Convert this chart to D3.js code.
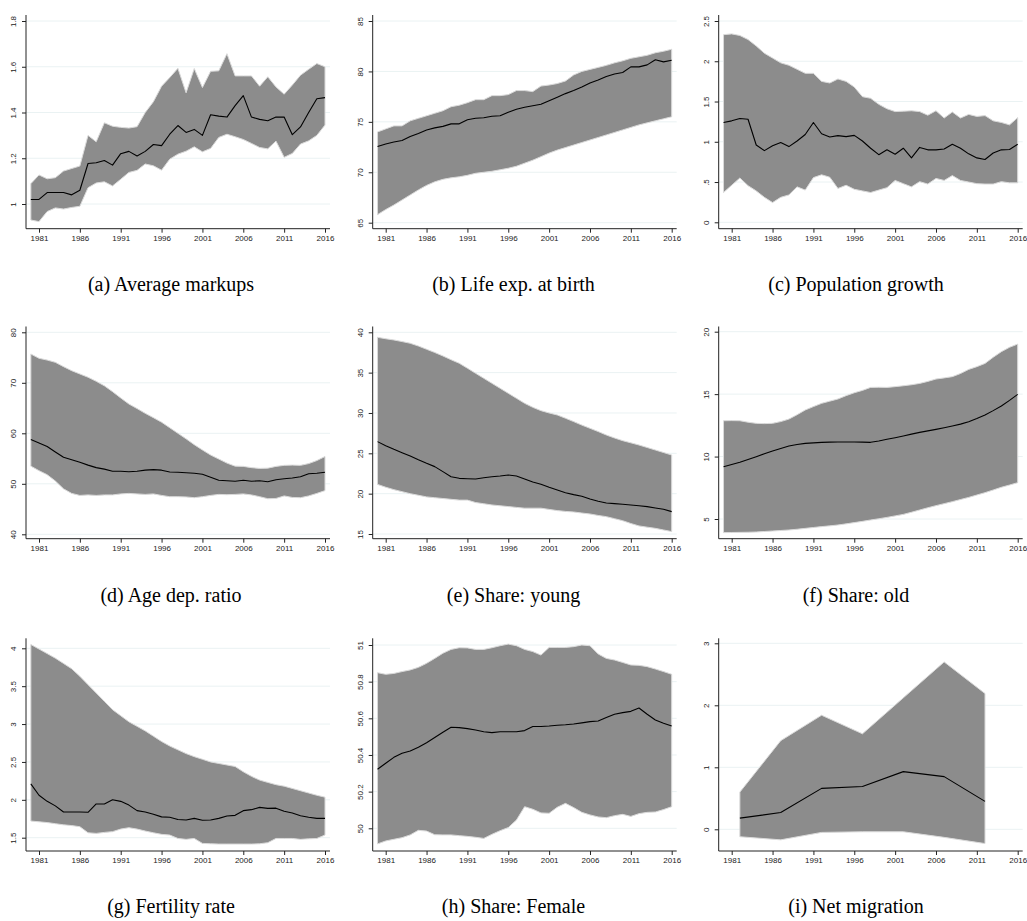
<!DOCTYPE html>
<html>
<head>
<meta charset="utf-8">
<script src="https://cdn.jsdelivr.net/npm/d3@7"></script>
<style>
  html, body { margin: 0; padding: 0; background: #fff; }
  svg { display: block; }
</style>
</head>
<body>
<svg id="fig" width="1027" height="921"></svg>
<script>
// ---- Data -------------------------------------------------------------
const years = [1980,1981,1982,1983,1984,1985,1986,1987,1988,1989,1990,1991,1992,1993,1994,1995,1996,1997,1998,1999,2000,2001,2002,2003,2004,2005,2006,2007,2008,2009,2010,2011,2012,2013,2014,2015,2016];
const xTickYears = [1981,1986,1991,1996,2001,2006,2011,2016];

// (a) Average markups
const markupMean  = [1.02,1.02,1.05,1.05,1.05,1.04,1.06,1.177,1.18,1.19,1.17,1.22,1.23,1.21,1.23,1.26,1.255,1.305,1.343,1.313,1.326,1.30,1.39,1.384,1.38,1.43,1.474,1.38,1.37,1.364,1.38,1.38,1.303,1.337,1.40,1.46,1.465];
const markupHigh  = [1.089,1.127,1.11,1.115,1.144,1.155,1.166,1.30,1.272,1.355,1.34,1.335,1.332,1.338,1.40,1.447,1.515,1.553,1.593,1.486,1.592,1.509,1.58,1.582,1.657,1.56,1.56,1.56,1.515,1.556,1.512,1.48,1.52,1.563,1.589,1.614,1.60];
const markupLow   = [0.93,0.923,0.967,0.983,0.978,0.985,0.99,1.071,1.092,1.097,1.079,1.108,1.138,1.147,1.175,1.167,1.148,1.196,1.218,1.231,1.25,1.228,1.243,1.291,1.305,1.294,1.282,1.265,1.247,1.241,1.275,1.204,1.221,1.262,1.276,1.30,1.345];
const markupTicks = [1, 1.2, 1.4, 1.6, 1.8];
const markupTickLabels = ["1", "1.2", "1.4", "1.6", "1.8"];

// (b) Life expectancy at birth
const lifeMean  = [72.55,72.8,73.0,73.15,73.55,73.85,74.2,74.4,74.55,74.8,74.8,75.2,75.35,75.4,75.55,75.6,75.95,76.25,76.45,76.6,76.75,77.1,77.45,77.8,78.1,78.45,78.85,79.15,79.5,79.75,79.9,80.45,80.45,80.65,81.15,80.95,81.1];
const lifeHigh  = [74.0,74.3,74.6,74.6,75.1,75.35,75.6,75.85,76.1,76.5,76.65,76.9,77.2,77.2,77.6,77.6,77.7,78.1,78.1,78.0,78.55,78.65,78.8,79.05,79.65,80.0,80.2,80.4,80.6,80.85,81.05,81.3,81.45,81.6,81.85,82.0,82.2];
const lifeLow   = [65.8,66.3,66.75,67.25,67.75,68.25,68.7,69.05,69.3,69.45,69.55,69.7,69.9,70.0,70.1,70.25,70.4,70.6,70.9,71.2,71.55,71.9,72.2,72.45,72.7,72.95,73.2,73.45,73.7,73.95,74.2,74.45,74.7,74.9,75.1,75.3,75.5];
const lifeTicks = [65, 70, 75, 80, 85];
const lifeTickLabels = ["65", "70", "75", "80", "85"];

// (c) Population growth
const popMean  = [1.24,1.26,1.29,1.28,0.96,0.89,0.95,0.99,0.94,1.01,1.09,1.24,1.10,1.06,1.076,1.064,1.08,1.01,0.92,0.84,0.90,0.845,0.92,0.80,0.93,0.90,0.90,0.91,0.97,0.92,0.85,0.80,0.78,0.86,0.90,0.905,0.97];
const popHigh  = [2.33,2.34,2.32,2.27,2.19,2.10,2.04,1.98,1.95,1.90,1.85,1.85,1.75,1.73,1.78,1.75,1.68,1.56,1.54,1.465,1.41,1.375,1.38,1.385,1.375,1.33,1.385,1.295,1.37,1.295,1.34,1.315,1.325,1.26,1.24,1.21,1.30];
const popLow   = [0.37,0.46,0.55,0.455,0.39,0.31,0.245,0.31,0.34,0.44,0.40,0.555,0.59,0.56,0.42,0.46,0.41,0.39,0.37,0.40,0.43,0.52,0.48,0.44,0.505,0.475,0.545,0.52,0.58,0.52,0.50,0.48,0.475,0.475,0.505,0.49,0.49];
const popTicks = [0, 0.5, 1, 1.5, 2, 2.5];
const popTickLabels = ["0", ".5", "1", "1.5", "2", "2.5"];

// (d) Age dependency ratio
const depMean  = [58.75,58.1,57.4,56.3,55.25,54.75,54.25,53.7,53.2,52.9,52.5,52.5,52.4,52.5,52.7,52.8,52.7,52.35,52.3,52.2,52.1,51.9,51.3,50.7,50.6,50.5,50.7,50.5,50.6,50.4,50.8,51.0,51.15,51.4,52.0,52.1,52.3];
const depHigh  = [75.7,74.85,74.5,74.05,73.2,72.4,71.75,71.1,70.3,69.4,68.25,67.0,65.8,64.9,63.95,63.1,62.2,61.1,60.0,58.9,57.75,56.7,55.7,54.9,54.1,53.5,53.45,53.2,53.05,53.1,53.45,53.65,53.7,53.65,54.0,54.6,55.4];
const depLow   = [53.5,52.6,51.8,50.55,49.0,48.1,47.7,47.8,47.7,47.8,47.8,48.0,48.1,48.0,47.9,48.0,47.7,47.45,47.45,47.4,47.25,47.45,47.7,47.9,47.85,47.9,48.0,47.8,47.45,47.05,47.1,47.6,47.3,47.25,47.6,48.1,48.65];
const depTicks = [40, 50, 60, 70, 80];
const depTickLabels = ["40", "50", "60", "70", "80"];

// (e) Share of young population
const youngMean = [26.45,25.95,25.5,25.08,24.67,24.2,23.76,23.35,22.73,22.1,21.9,21.85,21.82,21.98,22.1,22.19,22.31,22.19,21.82,21.45,21.16,20.79,20.45,20.12,19.88,19.67,19.34,19.05,18.84,18.76,18.68,18.6,18.51,18.39,18.22,18.06,17.77];
const youngHigh = [39.38,39.2,39.05,38.85,38.64,38.3,37.9,37.5,37.07,36.6,36.16,35.55,34.92,34.3,33.68,33.06,32.44,31.82,31.2,30.7,30.29,30.0,29.75,29.35,28.93,28.5,28.1,27.7,27.27,26.9,26.57,26.3,26.03,25.72,25.41,25.1,24.79];
const youngLow  = [21.15,20.8,20.5,20.25,20.0,19.8,19.6,19.5,19.4,19.3,19.2,19.2,18.9,18.75,18.6,18.5,18.4,18.3,18.2,18.2,18.2,18.05,17.9,17.8,17.73,17.6,17.48,17.3,17.15,16.9,16.65,16.3,16.0,15.85,15.7,15.5,15.3];
const youngTicks = [15, 20, 25, 30, 35, 40];
const youngTickLabels = ["15", "20", "25", "30", "35", "40"];

// (f) Share of old population
const oldMean = [9.19,9.37,9.54,9.77,9.99,10.22,10.44,10.65,10.84,10.97,11.06,11.1,11.14,11.16,11.17,11.17,11.17,11.16,11.14,11.25,11.38,11.51,11.65,11.8,11.94,12.06,12.18,12.31,12.45,12.6,12.79,13.05,13.33,13.68,14.05,14.5,14.98];
const oldHigh = [12.87,12.88,12.87,12.75,12.66,12.64,12.66,12.8,13.0,13.35,13.73,14.0,14.26,14.44,14.61,14.88,15.11,15.3,15.54,15.55,15.54,15.6,15.67,15.75,15.86,16.02,16.21,16.3,16.4,16.65,16.98,17.2,17.46,17.95,18.4,18.75,19.01];
const oldLow  = [3.91,3.92,3.93,3.94,3.96,4.0,4.04,4.08,4.12,4.18,4.25,4.32,4.39,4.45,4.52,4.61,4.71,4.81,4.92,5.02,5.13,5.25,5.37,5.54,5.72,5.9,6.07,6.23,6.39,6.56,6.73,6.92,7.11,7.32,7.54,7.72,7.91];
const oldTicks = [5, 10, 15, 20];
const oldTickLabels = ["5", "10", "15", "20"];

// (g) Fertility rate
const fertMean = [2.21,2.06,1.98,1.92,1.84,1.84,1.84,1.835,1.945,1.945,2.00,1.98,1.93,1.857,1.84,1.81,1.775,1.77,1.74,1.733,1.755,1.73,1.733,1.755,1.786,1.795,1.857,1.87,1.90,1.887,1.89,1.85,1.826,1.79,1.77,1.755,1.755];
const fertHigh = [4.05,3.99,3.93,3.87,3.80,3.73,3.63,3.52,3.41,3.30,3.19,3.11,3.03,2.97,2.91,2.84,2.77,2.71,2.66,2.61,2.57,2.535,2.50,2.48,2.46,2.44,2.37,2.31,2.26,2.23,2.20,2.18,2.15,2.12,2.09,2.06,2.035];
const fertLow  = [1.72,1.71,1.70,1.685,1.67,1.66,1.645,1.565,1.557,1.57,1.58,1.614,1.632,1.614,1.588,1.565,1.544,1.535,1.49,1.478,1.49,1.425,1.42,1.416,1.416,1.416,1.416,1.416,1.42,1.434,1.49,1.49,1.49,1.478,1.485,1.49,1.535];
const fertTicks = [1.5, 2, 2.5, 3, 3.5, 4];
const fertTickLabels = ["1.5", "2", "2.5", "3", "3.5", "4"];

// (h) Share of female population
const femMean = [50.322,50.355,50.387,50.409,50.422,50.442,50.467,50.495,50.524,50.551,50.549,50.544,50.536,50.527,50.522,50.527,50.527,50.527,50.533,50.555,50.555,50.558,50.562,50.565,50.569,50.575,50.582,50.585,50.604,50.622,50.631,50.638,50.656,50.622,50.591,50.573,50.558];
const femHigh = [50.849,50.84,50.845,50.855,50.864,50.878,50.9,50.927,50.955,50.976,50.985,50.984,50.976,50.976,50.985,50.996,51.005,50.996,50.976,50.964,50.945,50.987,50.987,50.987,50.991,51.0,50.996,50.951,50.927,50.918,50.905,50.891,50.889,50.882,50.869,50.855,50.84];
const femLow  = [49.915,49.931,49.94,49.949,49.964,49.989,49.985,49.965,49.964,49.964,49.96,49.956,49.951,49.945,49.967,49.987,50.004,50.045,50.118,50.104,50.084,50.082,50.115,50.136,50.113,50.087,50.073,50.062,50.058,50.069,50.076,50.065,50.08,50.087,50.089,50.102,50.118];
const femTicks = [50, 50.2, 50.4, 50.6, 50.8, 51];
const femTickLabels = ["50", "50.2", "50.4", "50.6", "50.8", "51"];

// (i) Net migration (five-year observations)
const migYears = [1982, 1987, 1992, 1997, 2002, 2007, 2012];
const migMean  = [0.18, 0.27, 0.66, 0.69, 0.93, 0.85, 0.45];
const migHigh  = [0.60, 1.43, 1.84, 1.54, 2.12, 2.70, 2.19];
const migLow   = [-0.12, -0.17, -0.05, -0.04, -0.04, -0.13, -0.23];
const migTicks = [0, 1, 2, 3];
const migTickLabels = ["0", "1", "2", "3"];

const captions = [
  "(a) Average markups", "(b) Life exp. at birth", "(c) Population growth",
  "(d) Age dep. ratio", "(e) Share: young", "(f) Share: old",
  "(g) Fertility rate", "(h) Share: Female", "(i) Net migration"
];

// ---- Layout -----------------------------------------------------------
const colAxisX   = [26, 372.7, 718.7];   // y-axis line of each column
const colCenter  = [171, 513.5, 856];    // caption centre of each column
const rowTop     = [15, 326.5, 638.3];
const rowBottom  = [228.7, 538.7, 851];
const captionY   = [291, 602, 913];
const plotWidth  = 304;
const firstTickOffset = 13;   // 1981 from the y-axis
const lastTickOffset  = 299;  // 2016 from the y-axis
// pixel positions of the lowest and highest y tick per panel
const yTickPix = [
  [204, 21], [222.7, 21], [222.3, 21],
  [534.3, 332.3], [534, 332.3], [519, 331.7],
  [837.7, 648.3], [828.3, 645], [829.3, 643.3]
];

const panels = [
  { x: years, mean: markupMean, hi: markupHigh, lo: markupLow, ticks: markupTicks, labels: markupTickLabels },
  { x: years, mean: lifeMean,   hi: lifeHigh,   lo: lifeLow,   ticks: lifeTicks,   labels: lifeTickLabels },
  { x: years, mean: popMean,    hi: popHigh,    lo: popLow,    ticks: popTicks,    labels: popTickLabels },
  { x: years, mean: depMean,    hi: depHigh,    lo: depLow,    ticks: depTicks,    labels: depTickLabels },
  { x: years, mean: youngMean,  hi: youngHigh,  lo: youngLow,  ticks: youngTicks,  labels: youngTickLabels },
  { x: years, mean: oldMean,    hi: oldHigh,    lo: oldLow,    ticks: oldTicks,    labels: oldTickLabels },
  { x: years, mean: fertMean,   hi: fertHigh,   lo: fertLow,   ticks: fertTicks,   labels: fertTickLabels },
  { x: years, mean: femMean,    hi: femHigh,    lo: femLow,    ticks: femTicks,    labels: femTickLabels },
  { x: migYears, mean: migMean, hi: migHigh,    lo: migLow,    ticks: migTicks,    labels: migTickLabels }
];

const svg = d3.select("#fig");
const GRID = "#eaf2f3", AREA = "#8c8c8c", AREA_EDGE = "#dadada";
const TICK_FONT = "'Liberation Sans', Arial, Helvetica, sans-serif";

panels.forEach((p, i) => {
  const col = i % 3, row = Math.floor(i / 3);
  const ax = colAxisX[col], top = rowTop[row], bottom = rowBottom[row];

  const x = d3.scaleLinear()
    .domain([xTickYears[0], xTickYears[xTickYears.length - 1]])
    .range([ax + firstTickOffset, ax + lastTickOffset]);
  const y = d3.scaleLinear()
    .domain([p.ticks[0], p.ticks[p.ticks.length - 1]])
    .range(yTickPix[i]);

  const g = svg.append("g");

  // horizontal grid lines
  g.selectAll("line.grid").data(p.ticks).enter().append("line")
    .attr("x1", ax).attr("x2", ax + plotWidth)
    .attr("y1", d => y(d)).attr("y2", d => y(d))
    .attr("stroke", GRID).attr("stroke-width", 1);

  const rows = p.x.map((yr, k) => ({ yr, m: p.mean[k], hi: p.hi[k], lo: p.lo[k] }));

  // range band
  g.append("path").datum(rows)
    .attr("d", d3.area().x(d => x(d.yr)).y0(d => y(d.lo)).y1(d => y(d.hi)))
    .attr("fill", AREA).attr("stroke", AREA_EDGE).attr("stroke-width", 1)
    .attr("stroke-linejoin", "round");

  // mean line
  g.append("path").datum(rows)
    .attr("d", d3.line().x(d => x(d.yr)).y(d => y(d.m)))
    .attr("fill", "none").attr("stroke", "#000").attr("stroke-width", 1.1)
    .attr("stroke-linejoin", "round");

  // y axis
  const yAxis = d3.axisLeft(y).tickValues(p.ticks)
    .tickFormat((d, k) => p.labels[k]).tickSize(4).tickSizeOuter(0);
  const ya = g.append("g").attr("transform", `translate(${ax},0)`).call(yAxis);
  ya.select(".domain").attr("d", `M0,${top}V${bottom}`).attr("stroke", "#222");
  ya.selectAll(".tick line").attr("stroke", "#222");
  ya.selectAll(".tick text")
    .attr("x", null).attr("dy", null)
    .attr("transform", "translate(-10,0) rotate(-90)")
    .attr("text-anchor", "middle")
    .attr("font-family", TICK_FONT).attr("font-size", 8).attr("fill", "#222");

  // x axis
  const xAxis = d3.axisBottom(x).tickValues(xTickYears)
    .tickFormat(d3.format("d")).tickSize(4).tickSizeOuter(0);
  const xa = g.append("g").attr("transform", `translate(0,${bottom})`).call(xAxis);
  xa.select(".domain").attr("d", `M${ax},0H${ax + plotWidth}`).attr("stroke", "#222");
  xa.selectAll(".tick line").attr("stroke", "#222");
  xa.selectAll(".tick text")
    .attr("y", 12).attr("dy", null)
    .attr("font-family", TICK_FONT).attr("font-size", 8).attr("fill", "#222");

  // caption
  svg.append("text")
    .attr("x", colCenter[col]).attr("y", captionY[row])
    .attr("text-anchor", "middle")
    .attr("font-family", "'Liberation Serif', 'Times New Roman', serif")
    .attr("font-size", 20).attr("fill", "#000")
    .text(captions[i]);
});
</script>
</body>
</html>
